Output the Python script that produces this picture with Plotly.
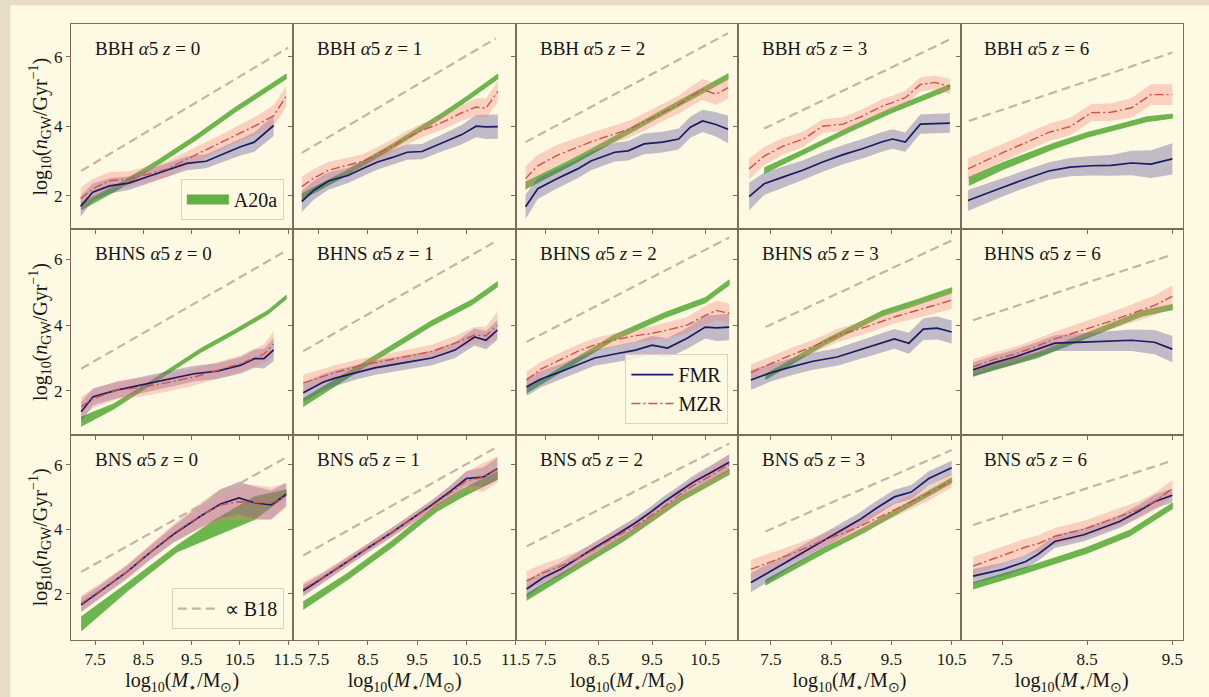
import plotly.graph_objects as go
from plotly.subplots import make_subplots

# ---------------- data ----------------
TYPES = ["BBH", "BHNS", "BNS"]
REDSHIFTS = [0, 1, 2, 3, 6]
Y_TICKS = [2, 4, 6]
X_TICKS = [[7.5, 8.5, 9.5, 10.5, 11.5], [7.5, 8.5, 9.5, 10.5, 11.5],
           [7.5, 8.5, 9.5, 10.5], [7.5, 8.5, 9.5, 10.5], [7.5, 8.5, 9.5]]
X_RANGES = [[7.0, 11.61], [6.99, 11.505], [6.937, 11.12], [6.959, 10.648], [7.014, 9.625]]
Y_RANGES = [[1.029, 6.943], [0.663, 6.92], [0.574, 6.925]]

# panels in row-major order: BBH z0..z6, BHNS z0..z6, BNS z0..z6
BIN_X = [
    [7.2, 7.45, 7.8, 8.2, 8.6, 9.0, 9.4, 9.8, 10.2, 10.5, 10.8, 11.2, 11.46],
    [7.16, 7.4, 7.7, 8.1, 8.4, 8.7, 9.0, 9.3, 9.6, 10.0, 10.4, 10.7, 10.9, 11.14],
    [7.12, 7.35, 7.7, 8.1, 8.35, 8.8, 9.05, 9.35, 9.7, 10.0, 10.22, 10.45, 10.7, 10.93],
    [7.14, 7.39, 7.71, 8.04, 8.36, 8.7, 9.02, 9.35, 9.52, 9.73, 9.98, 10.22, 10.47],
    [7.1, 7.3, 7.52, 7.8, 8.05, 8.3, 8.55, 8.78, 9.02, 9.25, 9.5],
    [7.21, 7.46, 7.95, 8.44, 9.0, 9.55, 10.03, 10.52, 10.8, 11.0, 11.2],
    [7.19, 7.6, 7.82, 8.3, 8.64, 9.22, 9.46, 9.8, 10.27, 10.67, 10.9, 11.13],
    [7.14, 7.4, 7.78, 8.1, 8.42, 8.8, 9.19, 9.5, 9.79, 10.16, 10.5, 10.71, 10.95],
    [7.17, 7.5, 7.84, 8.2, 8.6, 9.07, 9.55, 9.79, 10.03, 10.26, 10.5],
    [7.16, 7.4, 7.65, 7.9, 8.12, 8.46, 8.75, 9.02, 9.29, 9.5],
    [7.21, 7.6, 8.16, 8.65, 9.13, 9.69, 10.1, 10.48, 10.8, 11.15, 11.46],
    [7.19, 7.6, 8.06, 8.5, 8.98, 9.4, 9.8, 10.2, 10.5, 10.84, 11.13],
    [7.14, 7.45, 7.78, 8.1, 8.42, 8.8, 9.19, 9.45, 9.73, 10.0, 10.28, 10.6, 10.95],
    [7.17, 7.45, 7.75, 8.05, 8.4, 8.7, 8.97, 9.25, 9.55, 9.83, 10.12, 10.5],
    [7.16, 7.51, 7.78, 7.92, 8.12, 8.46, 8.88, 9.1, 9.29, 9.5],
]
FMR_Y = [
    [1.69, 2.10, 2.28, 2.36, 2.55, 2.73, 2.93, 2.99, 3.22, 3.40, 3.54, 4.02, None],
    [1.83, 2.15, 2.42, 2.58, 2.78, 2.97, 3.10, 3.25, 3.27, 3.52, 3.75, 4.00, 3.98, 3.99],
    [1.68, 2.20, 2.48, 2.77, 3.00, 3.25, 3.29, 3.49, 3.54, 3.63, 3.97, 4.15, 4.05, 3.91],
    [1.97, 2.34, 2.54, 2.74, 2.97, 3.18, 3.35, 3.55, 3.63, 3.54, 4.06, 4.08, 4.09],
    [1.86, 2.05, 2.25, 2.50, 2.71, 2.82, 2.86, 2.87, 2.94, 2.91, 3.06],
    [1.36, 1.82, 2.02, 2.17, 2.34, 2.52, 2.60, 2.78, 2.98, 2.98, 3.25],
    [1.94, 2.27, 2.38, 2.58, 2.70, 2.85, 2.92, 3.00, 3.24, 3.64, 3.54, 3.85],
    [2.12, 2.35, 2.58, 2.80, 3.00, 3.12, 3.24, 3.39, 3.30, 3.60, 3.94, 3.92, 3.94],
    [2.33, 2.55, 2.73, 2.90, 3.03, 3.30, 3.58, 3.45, 3.88, 3.91, 3.79],
    [2.64, 2.85, 3.03, 3.25, 3.45, 3.48, 3.52, 3.54, 3.48, 3.27],
    [1.66, 2.07, 2.68, 3.29, 3.85, 4.41, 4.78, 4.97, 4.82, 4.75, 5.08],
    [2.10, 2.50, 2.97, 3.42, 3.89, 4.33, 4.75, 5.20, 5.57, 5.61, 5.87],
    [2.15, 2.50, 2.76, 3.10, 3.43, 3.80, 4.20, 4.50, 4.85, 5.15, 5.46, 5.75, 6.07],
    [2.35, 2.65, 2.97, 3.30, 3.68, 4.00, 4.29, 4.65, 5.00, 5.15, 5.57, 5.90],
    [2.55, 2.76, 3.00, 3.22, 3.62, 3.83, 4.24, 4.55, 4.85, 5.05],
]
FMR_ERR = [
    [0.30, 0.25, 0.22, 0.2, 0.2, 0.2, 0.2, 0.2, 0.22, 0.25, 0.28, 0.3, None],
    [0.3, 0.27, 0.25, 0.22, 0.22, 0.22, 0.22, 0.22, 0.22, 0.25, 0.28, 0.32, 0.35, 0.35],
    [0.35, 0.3, 0.28, 0.27, 0.27, 0.27, 0.28, 0.3, 0.3, 0.3, 0.3, 0.32, 0.35, 0.4],
    [0.4, 0.32, 0.3, 0.28, 0.28, 0.28, 0.28, 0.28, 0.28, 0.28, 0.28, 0.28, 0.28],
    [0.3, 0.28, 0.26, 0.25, 0.25, 0.26, 0.28, 0.3, 0.35, 0.4, 0.45],
    [0.3, 0.26, 0.25, 0.25, 0.25, 0.24, 0.24, 0.25, 0.28, 0.3, 0.35],
    [0.28, 0.25, 0.24, 0.22, 0.22, 0.22, 0.22, 0.22, 0.24, 0.26, 0.28, 0.3],
    [0.28, 0.25, 0.24, 0.24, 0.24, 0.25, 0.26, 0.28, 0.3, 0.32, 0.35, 0.4, 0.4],
    [0.3, 0.27, 0.26, 0.26, 0.27, 0.28, 0.3, 0.32, 0.33, 0.35, 0.35],
    [0.22, 0.22, 0.22, 0.22, 0.24, 0.27, 0.3, 0.33, 0.37, 0.4],
    [0.22, 0.2, 0.2, 0.22, 0.25, 0.35, 0.45, 0.5, 0.5, 0.45, 0.35],
    [0.18, 0.15, 0.13, 0.13, 0.13, 0.14, 0.15, 0.18, 0.22, 0.3, 0.35],
    [0.25, 0.22, 0.2, 0.18, 0.17, 0.17, 0.17, 0.17, 0.18, 0.18, 0.2, 0.22, 0.25],
    [0.3, 0.27, 0.25, 0.23, 0.22, 0.22, 0.22, 0.22, 0.22, 0.22, 0.22, 0.22],
    [0.22, 0.2, 0.2, 0.2, 0.2, 0.2, 0.2, 0.2, 0.22, 0.22],
]
MZR_Y = [
    [1.91, 2.20, 2.43, 2.48, 2.62, 2.77, 3.05, 3.32, 3.60, 3.80, 4.00, 4.30, 4.86],
    [2.26, 2.50, 2.73, 2.88, 2.99, 3.20, 3.42, 3.67, 3.88, 4.10, 4.38, 4.55, 4.52, 5.00],
    [2.49, 2.86, 3.15, 3.40, 3.55, 3.78, 3.90, 4.12, 4.40, 4.62, 4.85, 5.06, 4.92, 5.11],
    [2.77, 3.14, 3.43, 3.63, 4.00, 4.06, 4.29, 4.58, 4.68, 4.82, 5.20, 5.26, 5.14],
    [2.77, 3.00, 3.25, 3.55, 3.82, 3.99, 4.39, 4.40, 4.53, 4.91, 4.91],
    [1.52, 1.76, 2.02, 2.10, 2.25, 2.42, 2.62, 2.83, 3.00, 3.12, 3.43],
    [2.24, 2.45, 2.55, 2.75, 2.85, 3.02, 3.09, 3.20, 3.45, 3.70, 3.68, 4.00],
    [2.33, 2.65, 2.95, 3.20, 3.40, 3.55, 3.68, 3.75, 3.85, 4.00, 4.30, 4.45, 4.36],
    [2.55, 2.83, 3.09, 3.35, 3.68, 3.94, 4.25, 4.38, 4.50, 4.62, 4.76],
    [2.73, 2.95, 3.12, 3.35, 3.58, 3.85, 4.10, 4.35, 4.60, 4.88],
    [1.70, 2.10, 2.68, 3.30, 3.88, 4.42, 4.75, 4.85, 4.82, 4.80, 5.05],
    [2.15, 2.52, 2.98, 3.42, 3.88, 4.32, 4.72, 5.15, 5.50, 5.60, 5.85],
    [2.40, 2.65, 2.86, 3.10, 3.38, 3.75, 4.10, 4.40, 4.70, 5.05, 5.36, 5.65, 6.00],
    [2.76, 2.95, 3.17, 3.40, 3.68, 3.88, 4.08, 4.33, 4.59, 4.85, 5.11, 5.51],
    [2.86, 3.20, 3.45, 3.55, 3.78, 4.00, 4.38, 4.60, 4.85, 5.26],
]
MZR_ERR = [
    [0.32, 0.28, 0.25, 0.22, 0.22, 0.22, 0.22, 0.22, 0.22, 0.24, 0.26, 0.3, 0.3],
    [0.28, 0.26, 0.24, 0.22, 0.2, 0.2, 0.2, 0.2, 0.2, 0.2, 0.22, 0.25, 0.28, 0.3],
    [0.35, 0.32, 0.3, 0.28, 0.26, 0.25, 0.25, 0.25, 0.25, 0.26, 0.28, 0.3, 0.3, 0.32],
    [0.3, 0.26, 0.24, 0.22, 0.2, 0.2, 0.2, 0.2, 0.2, 0.2, 0.2, 0.2, 0.22],
    [0.3, 0.27, 0.25, 0.25, 0.25, 0.25, 0.25, 0.25, 0.28, 0.3, 0.3],
    [0.3, 0.28, 0.28, 0.28, 0.27, 0.26, 0.25, 0.25, 0.27, 0.3, 0.38],
    [0.25, 0.23, 0.22, 0.2, 0.2, 0.2, 0.2, 0.2, 0.22, 0.24, 0.28, 0.4],
    [0.25, 0.23, 0.22, 0.2, 0.2, 0.2, 0.2, 0.22, 0.24, 0.25, 0.28, 0.3, 0.3],
    [0.25, 0.23, 0.22, 0.2, 0.2, 0.2, 0.2, 0.22, 0.24, 0.25, 0.27],
    [0.22, 0.22, 0.22, 0.22, 0.22, 0.24, 0.26, 0.28, 0.3, 0.33],
    [0.25, 0.22, 0.22, 0.24, 0.28, 0.4, 0.5, 0.55, 0.55, 0.5, 0.38],
    [0.2, 0.17, 0.15, 0.15, 0.15, 0.16, 0.18, 0.22, 0.28, 0.45, 0.4],
    [0.3, 0.28, 0.25, 0.22, 0.2, 0.2, 0.2, 0.2, 0.2, 0.2, 0.22, 0.25, 0.3],
    [0.3, 0.28, 0.26, 0.24, 0.22, 0.22, 0.22, 0.22, 0.22, 0.22, 0.22, 0.22],
    [0.28, 0.27, 0.26, 0.26, 0.26, 0.26, 0.26, 0.26, 0.26, 0.26],
]
A20_X = [
    [7.21, 8.0, 8.8, 9.6, 10.4, 11.0, 11.46],
    [7.16, 8.0, 9.0, 9.5, 10.0, 10.5, 11.14],
    [7.12, 8.0, 9.1, 10.0, 10.93],
    [7.39, 8.0, 8.8, 9.5, 10.0, 10.47],
    [7.11, 7.52, 8.11, 8.5, 8.9, 9.2, 9.5],
    [7.21, 7.88, 8.58, 9.0, 9.69, 10.38, 11.08, 11.46],
    [7.19, 7.8, 8.52, 9.8, 10.62, 11.13],
    [7.14, 7.5, 8.0, 8.76, 9.73, 10.5, 10.95],
    [7.41, 8.4, 9.35, 9.93, 10.5],
    [7.16, 7.92, 8.6, 9.15, 9.5],
    [7.21, 8.2, 9.2, 10.0, 10.8, 11.46],
    [7.19, 8.1, 9.0, 9.9, 10.4, 11.13],
    [7.14, 8.0, 9.0, 10.05, 10.95],
    [7.41, 8.4, 9.07, 10.5],
    [7.16, 7.8, 8.5, 9.0, 9.5],
]
A20_Y = [
    [1.69, 2.27, 2.95, 3.68, 4.47, 5.02, 5.43],
    [1.97, 2.60, 3.42, 3.86, 4.30, 4.78, 5.43],
    [2.29, 2.97, 3.88, 4.65, 5.43],
    [2.72, 3.22, 3.90, 4.45, 4.80, 5.13],
    [2.41, 2.86, 3.43, 3.75, 4.00, 4.20, 4.29],
    [1.06, 1.52, 2.17, 2.58, 3.23, 3.79, 4.39, 4.85],
    [1.64, 2.20, 2.88, 4.06, 4.70, 5.24],
    [2.03, 2.35, 2.85, 3.60, 4.30, 4.76, 5.30],
    [2.42, 3.48, 4.36, 4.70, 5.06],
    [2.55, 3.09, 3.79, 4.36, 4.55],
    [1.07, 2.25, 3.40, 4.05, 4.65, 5.12],
    [1.64, 2.55, 3.55, 4.65, 5.10, 5.66],
    [1.90, 2.75, 3.75, 4.95, 5.77],
    [2.35, 3.36, 4.00, 5.51],
    [2.25, 2.75, 3.35, 3.88, 4.72],
]
A20_ERR = [
    [0.1, 0.08, 0.07, 0.07, 0.07, 0.07, 0.07],
    [0.09, 0.07, 0.07, 0.07, 0.07, 0.07, 0.07],
    [0.1, 0.08, 0.08, 0.08, 0.08],
    [0.08, 0.07, 0.07, 0.07, 0.07, 0.07],
    [0.12, 0.1, 0.08, 0.07, 0.07, 0.07, 0.06],
    [0.14, 0.08, 0.06, 0.06, 0.06, 0.06, 0.06, 0.06],
    [0.12, 0.1, 0.08, 0.08, 0.08, 0.08],
    [0.1, 0.08, 0.08, 0.08, 0.08, 0.08, 0.08],
    [0.08, 0.08, 0.08, 0.08, 0.08],
    [0.1, 0.08, 0.08, 0.08, 0.08],
    [0.22, 0.12, 0.1, 0.25, 0.35, 0.1],
    [0.12, 0.1, 0.1, 0.1, 0.12, 0.12],
    [0.1, 0.08, 0.08, 0.08, 0.08],
    [0.08, 0.08, 0.08, 0.08],
    [0.1, 0.09, 0.09, 0.09, 0.09],
]
B18_X = [
    [7.21, 11.5], [7.16, 11.1], [7.12, 10.93], [7.39, 10.47], [7.11, 9.5],
    [7.21, 11.46], [7.19, 11.13], [7.14, 10.95], [7.41, 10.5], [7.16, 9.5],
    [7.21, 11.46], [7.19, 11.13], [7.14, 10.95], [7.41, 10.5], [7.16, 9.5],
]
B18_Y = [
    [2.71, 6.26], [3.23, 6.53], [3.54, 6.68], [3.93, 6.50], [4.15, 6.12],
    [2.67, 6.27], [3.21, 6.58], [3.49, 6.67], [3.94, 6.58], [4.15, 6.15],
    [2.68, 6.22], [3.19, 6.55], [3.47, 6.65], [3.93, 6.45], [4.13, 6.12],
]

# ---------------- style ----------------
FONT = "Liberation Serif"
CREAM = "#fdf9e3"
TAN = "#e9dcc4"
SPINE = "#7f6b58"
TXT = "#161616"
NAVY = "#1b1b66"
FMR_FILL = "rgba(85,75,150,0.36)"
RED = "#d0524c"
MZR_FILL = "rgba(245,125,115,0.32)"
GREEN = "#62b043"
GREEN_FILL = "rgba(96,176,64,0.92)"
B18_COL = "#c6b4a2"

fig = make_subplots(rows=3, cols=5, horizontal_spacing=0, vertical_spacing=0)


def band(xs, ys, es):
    pts = [(x, y, e) for x, y, e in zip(xs, ys, es) if y is not None]
    px = [p[0] for p in pts]
    up = [p[1] + p[2] for p in pts]
    lo = [p[1] - p[2] for p in pts]
    return px + px[::-1], up + lo[::-1]


def clean(xs, ys):
    pts = [(x, y) for x, y in zip(xs, ys) if y is not None]
    return [p[0] for p in pts], [p[1] for p in pts]


for i in range(15):
    r, c = i // 5 + 1, i % 5 + 1
    # A20a band
    gx, gy = band(A20_X[i], A20_Y[i], A20_ERR[i])
    fig.add_trace(go.Scatter(x=gx, y=gy, mode="lines", fill="toself", fillcolor=GREEN_FILL,
                             line=dict(color=GREEN, width=0.8), hoverinfo="skip", showlegend=False),
                  row=r, col=c)
    # FMR band
    fx, fy = band(BIN_X[i], FMR_Y[i], FMR_ERR[i])
    fig.add_trace(go.Scatter(x=fx, y=fy, mode="lines", fill="toself", fillcolor=FMR_FILL,
                             line=dict(width=0), hoverinfo="skip", showlegend=False),
                  row=r, col=c)
    # MZR band
    mx, my = band(BIN_X[i], MZR_Y[i], MZR_ERR[i])
    fig.add_trace(go.Scatter(x=mx, y=my, mode="lines", fill="toself", fillcolor=MZR_FILL,
                             line=dict(width=0), hoverinfo="skip", showlegend=False),
                  row=r, col=c)
    # B18 scaling
    fig.add_trace(go.Scatter(x=B18_X[i], y=B18_Y[i], mode="lines",
                             line=dict(color=B18_COL, width=2.2, dash="9px,5px"),
                             hoverinfo="skip", showlegend=False), row=r, col=c)
    # FMR line
    lx, ly = clean(BIN_X[i], FMR_Y[i])
    fig.add_trace(go.Scatter(x=lx, y=ly, mode="lines", line=dict(color=NAVY, width=1.7),
                             hoverinfo="skip", showlegend=False), row=r, col=c)
    # MZR line
    lx, ly = clean(BIN_X[i], MZR_Y[i])
    fig.add_trace(go.Scatter(x=lx, y=ly, mode="lines",
                             line=dict(color=RED, width=1.4, dash="9px,3px,2px,3px"),
                             hoverinfo="skip", showlegend=False), row=r, col=c)

    fig.update_xaxes(row=r, col=c, range=X_RANGES[c - 1], tickvals=X_TICKS[c - 1],
                     ticktext=[str(t) for t in X_TICKS[c - 1]], showticklabels=(r == 3))
    fig.update_yaxes(row=r, col=c, range=Y_RANGES[r - 1], tickvals=Y_TICKS,
                     ticktext=[str(t) for t in Y_TICKS], showticklabels=(c == 1))

    axn = "" if i == 0 else str(i + 1)
    fig.add_annotation(xref=f"x{axn} domain", yref=f"y{axn} domain", x=0.098, y=0.88,
                       xanchor="left", yanchor="middle", showarrow=False,
                       text=f"{TYPES[r-1]} <i>α</i>5 <i>z</i> = {REDSHIFTS[c-1]}",
                       font=dict(family=FONT, size=19, color=TXT))

fig.update_xaxes(showline=True, linecolor=SPINE, linewidth=1, mirror=True, ticks="outside",
                 ticklen=4, tickwidth=1, tickcolor=SPINE, showgrid=False, zeroline=False,
                 tickfont=dict(family=FONT, size=17, color=TXT))
fig.update_yaxes(showline=True, linecolor=SPINE, linewidth=1, mirror=True, ticks="outside",
                 ticklen=4, tickwidth=1, tickcolor=SPINE, showgrid=False, zeroline=False,
                 tickfont=dict(family=FONT, size=17, color=TXT))

X_LABEL = "log<sub>10</sub>(<i>M</i><sub>⋆</sub>/M<sub>⊙</sub>)"
Y_LABEL = "log<sub>10</sub>(<i>n</i><sub>GW</sub>/Gyr<sup>−1</sup>)"
for c in range(1, 6):
    fig.update_xaxes(row=3, col=c, title=dict(text=X_LABEL, standoff=2,
                                              font=dict(family=FONT, size=20, color=TXT)))
for r in range(1, 4):
    fig.update_yaxes(row=r, col=1, title=dict(text=Y_LABEL, standoff=1,
                                              font=dict(family=FONT, size=20, color=TXT)))

# legend entries
fig.add_trace(go.Scatter(x=[None], y=[None], mode="lines", name="A20a",
                         line=dict(color=GREEN, width=10), legend="legend"), row=1, col=1)
fig.add_trace(go.Scatter(x=[None], y=[None], mode="lines", name="FMR",
                         line=dict(color=NAVY, width=1.8), legend="legend2"), row=1, col=1)
fig.add_trace(go.Scatter(x=[None], y=[None], mode="lines", name="MZR",
                         line=dict(color=RED, width=1.5, dash="9px,3px,2px,3px"),
                         legend="legend2"), row=1, col=1)
fig.add_trace(go.Scatter(x=[None], y=[None], mode="lines", name="∝ B18",
                         line=dict(color=B18_COL, width=2.2, dash="9px,5px"),
                         legend="legend3"), row=1, col=1)

leg_common = dict(xanchor="right", yanchor="bottom", bgcolor="rgba(253,249,227,0.85)",
                  bordercolor="#e6cdbd", borderwidth=1, itemwidth=42,
                  font=dict(family=FONT, size=20, color=TXT))
fig.update_layout(
    width=1209, height=697,
    margin=dict(l=71, r=20, t=24, b=51),
    paper_bgcolor=TAN,
    plot_bgcolor="rgba(0,0,0,0)",
    legend=dict(x=0.1914, y=0.6817, **leg_common),
    legend2=dict(x=0.5912, y=0.3505, **leg_common),
    legend3=dict(x=0.1914, y=0.0177, **leg_common),
    showlegend=True,
)
fig.add_shape(type="rect", xref="paper", yref="paper", x0=-0.0546, x1=1.03, y0=-0.1, y1=1.0305,
              fillcolor=CREAM, line_width=0, layer="below")

fig.write_html("out.html")
